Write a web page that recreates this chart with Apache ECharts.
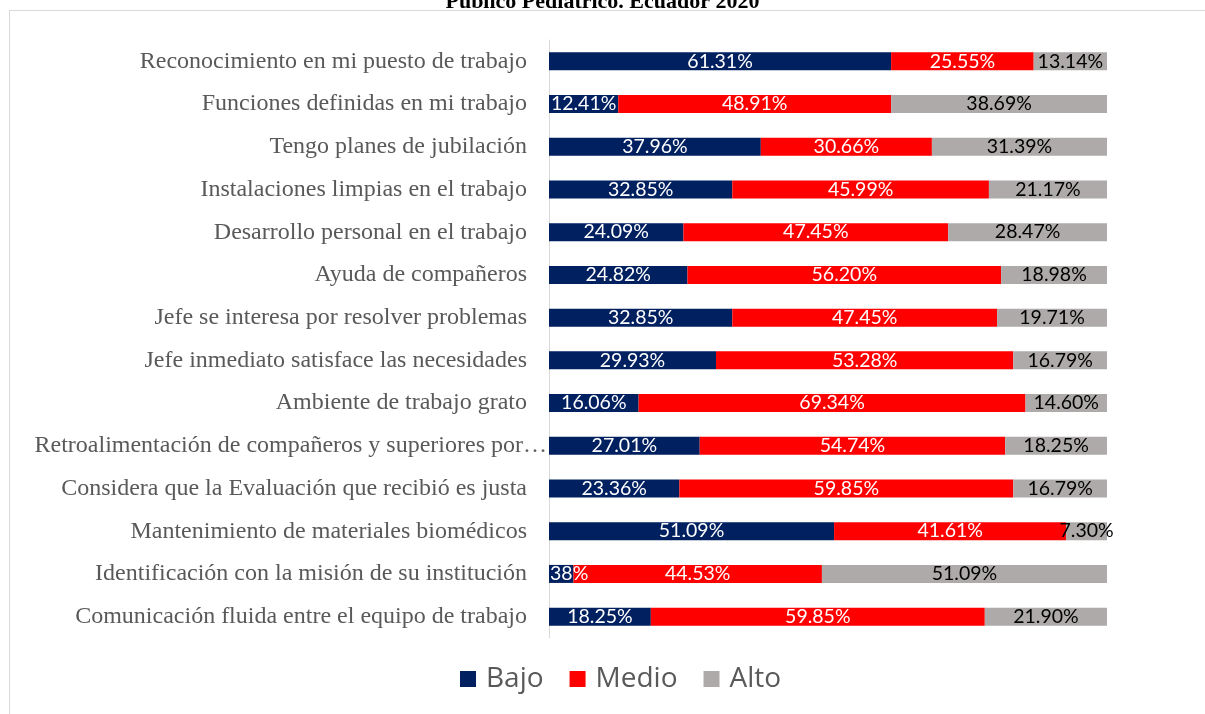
<!DOCTYPE html>
<html>
<head>
<meta charset="utf-8">
<script src="https://cdn.jsdelivr.net/npm/echarts@6/dist/echarts.min.js"></script>
<style>
html,body{margin:0;padding:0;background:#fff;}
#main{width:1205px;height:714px;}
</style>
</head>
<body>
<div id="main"></div>
<script>
const categories = [
  "Reconocimiento en mi puesto de trabajo",
  "Funciones definidas en mi trabajo",
  "Tengo planes de jubilación",
  "Instalaciones limpias en el trabajo",
  "Desarrollo personal en el trabajo",
  "Ayuda de compañeros",
  "Jefe se interesa por resolver problemas",
  "Jefe inmediato satisface las necesidades",
  "Ambiente de trabajo grato",
  "Retroalimentación de compañeros y superiores por…",
  "Considera que la Evaluación que recibió es justa",
  "Mantenimiento de materiales biomédicos",
  "Identificación con la misión de su institución",
  "Comunicación fluida entre el equipo de trabajo"
];
const bajo  = [61.31, 12.41, 37.96, 32.85, 24.09, 24.82, 32.85, 29.93, 16.06, 27.01, 23.36, 51.09, 4.38, 18.25];
const medio = [25.55, 48.91, 30.66, 45.99, 47.45, 56.20, 47.45, 53.28, 69.34, 54.74, 59.85, 41.61, 44.53, 59.85];
const alto  = [13.14, 38.69, 31.39, 21.17, 28.47, 18.98, 19.71, 16.79, 14.60, 18.25, 16.79, 7.30, 51.09, 21.90];
const seriesNames = ["Bajo", "Medio", "Alto"];
const titleText = "Público Pediátrico. Ecuador 2020";

const colors = ["#002060", "#FF0000", "#AEAAAA"];
const labelColors = ["#ffffff", "#ffffff", "#000000"];
const dataSets = [bajo, medio, alto];

const chart = echarts.init(document.getElementById('main'));
chart.setOption({
  animation: false,
  title: {
    text: titleText,
    left: 'center',
    top: -14,
    textStyle: {fontFamily: 'Liberation Serif', fontWeight: 'bold', fontSize: 22, color: '#000'}
  },
  graphic: [
    {type: 'line', shape: {x1: 9, y1: 10.5, x2: 1205, y2: 10.5}, style: {stroke: '#d9d9d9', lineWidth: 1}},
    {type: 'line', shape: {x1: 9.5, y1: 10, x2: 9.5, y2: 714}, style: {stroke: '#d9d9d9', lineWidth: 1}}
  ],
  grid: {left: 549, right: 98, top: 40, bottom: 76, containLabel: false},
  legend: {
    data: seriesNames,
    bottom: 16,
    left: 455,
    icon: 'rect',
    itemWidth: 16,
    itemHeight: 16,
    itemGap: 26,
    textStyle: {fontFamily: 'Open Sans', fontSize: 28, color: '#595959', padding: [0, 0, 0, 5]}
  },
  xAxis: {type: 'value', min: 0, max: 100, show: false},
  yAxis: {
    type: 'category',
    data: categories,
    inverse: true,
    axisTick: {show: false},
    axisLine: {show: true, lineStyle: {color: '#d9d9d9'}},
    axisLabel: {
      fontFamily: 'Liberation Serif', fontSize: 24, color: '#595959', margin: 22,
      formatter: (v) => v.endsWith('…') ? '{s|' + v + '}' : v,
      rich: {s: {fontFamily: 'Liberation Serif', fontSize: 24, color: '#595959', padding: [0, -20, 0, 0]}}
    }
  },
  series: seriesNames.map((n, i) => ({
    name: n,
    type: 'bar',
    stack: 'total',
    barWidth: 18,
    data: dataSets[i],
    itemStyle: {color: colors[i]},
    label: {
      show: true,
      position: 'inside',
      formatter: p => p.value.toFixed(2) + '%',
      fontFamily: 'Lato',
      fontSize: 19.5,
      color: labelColors[i]
    }
  }))
});
</script>
</body>
</html>
